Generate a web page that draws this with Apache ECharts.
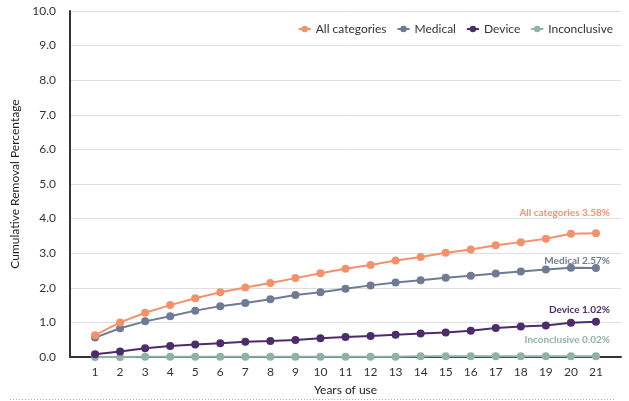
<!DOCTYPE html>
<html>
<head>
<meta charset="utf-8">
<script src="https://cdn.jsdelivr.net/npm/echarts@6/dist/echarts.min.js"></script>
<style>html,body{margin:0;padding:0;background:#fff;}#c{width:629px;height:401px;}</style>
</head>
<body>
<div id="c"></div>
<script>
var years = [1,2,3,4,5,6,7,8,9,10,11,12,13,14,15,16,17,18,19,20,21];
var allCategories = [0.63,1.00,1.28,1.50,1.70,1.87,2.01,2.14,2.28,2.42,2.55,2.66,2.79,2.89,3.01,3.11,3.23,3.32,3.42,3.56,3.58];
var medical = [0.56,0.83,1.03,1.18,1.34,1.47,1.56,1.67,1.79,1.87,1.97,2.07,2.15,2.22,2.29,2.35,2.41,2.47,2.53,2.58,2.57];
var device = [0.08,0.16,0.25,0.32,0.36,0.40,0.44,0.46,0.49,0.54,0.58,0.61,0.64,0.68,0.71,0.76,0.84,0.88,0.91,0.99,1.02];
var inconclusive = [0.00,0.00,0.01,0.01,0.01,0.01,0.01,0.01,0.01,0.01,0.01,0.01,0.01,0.02,0.02,0.02,0.02,0.02,0.02,0.02,0.02];
var seriesNames = ['All categories','Medical','Device','Inconclusive'];
var endLabels = ['All categories 3.58%','Medical 2.57%','Device 1.02%','Inconclusive 0.02%'];
var colors = ['#F5916A','#6F7A95','#4D2C6B','#8FB3A2'];
var labelOffsets = [[14,-6],[14,7],[14,2],[14,-3]];
var yTicks = [0,1,2,3,4,5,6,7,8,9,10];

var FONT = 'Lato, "Noto Sans", sans-serif';
var allData = [allCategories, medical, device, inconclusive];

function mk(i) {
  var vals = allData[i];
  var data = years.map(function (y, k) {
    var item = { value: [y, vals[k]] };
    if (k === years.length - 1) {
      item.label = {
        show: true,
        position: 'top',
        align: 'right',
        offset: labelOffsets[i],
        formatter: endLabels[i],
        color: colors[i],
        fontWeight: 'bold',
        fontSize: 10,
        fontFamily: FONT
      };
    }
    return item;
  });
  return {
    name: seriesNames[i],
    type: 'line',
    data: data,
    symbol: 'circle',
    symbolSize: 8,
    z: 10 - i,
    lineStyle: { color: colors[i], width: 2 },
    itemStyle: { color: colors[i] },
    label: { show: false },
    emphasis: { disabled: true },
    animation: false
  };
}

var chart = echarts.init(document.getElementById('c'), null, { renderer: 'canvas' });
chart.setOption({
  animation: false,
  textStyle: { fontFamily: FONT },
  color: colors,
  grid: { left: 70, right: 8, top: 11, bottom: 43, containLabel: false },
  legend: {
    data: seriesNames,
    right: 11,
    top: 18,
    itemWidth: 12,
    itemHeight: 8,
    itemGap: 10,
    textStyle: { color: '#333', fontSize: 12, fontFamily: FONT }
  },
  xAxis: {
    type: 'value',
    min: 0,
    max: 22,
    interval: 1,
    name: 'Years of use',
    nameLocation: 'middle',
    nameGap: 27,
    nameTextStyle: { color: '#222', fontSize: 12, fontFamily: FONT },
    axisLine: { show: true, lineStyle: { color: '#333', width: 2 } },
    axisTick: { show: false },
    splitLine: { show: false },
    axisLabel: {
      color: '#333', fontSize: 12, margin: 9, fontFamily: FONT,
      formatter: function (v) { return years.indexOf(v) >= 0 ? String(v) : ''; }
    }
  },
  yAxis: {
    type: 'value',
    min: yTicks[0],
    max: yTicks[yTicks.length - 1],
    interval: 1,
    name: 'Cumulative Removal Percentage',
    nameLocation: 'middle',
    nameGap: 47,
    nameTextStyle: { color: '#222', fontSize: 12, fontFamily: FONT },
    axisLine: { show: true, lineStyle: { color: '#333', width: 2 } },
    axisTick: { show: false },
    splitLine: { show: true, lineStyle: { color: '#dedede', width: 1 } },
    axisLabel: {
      color: '#333', fontSize: 12, margin: 14, fontFamily: FONT,
      formatter: function (v) { return v.toFixed(1); }
    }
  },
  graphic: [{
    type: 'line',
    shape: { x1: 10, y1: 399.5, x2: 616, y2: 399.5 },
    style: { stroke: '#aaa', lineWidth: 1, lineDash: [1, 2] },
    silent: true
  }],
  series: [mk(0), mk(1), mk(2), mk(3)]
});
</script>
</body>
</html>
